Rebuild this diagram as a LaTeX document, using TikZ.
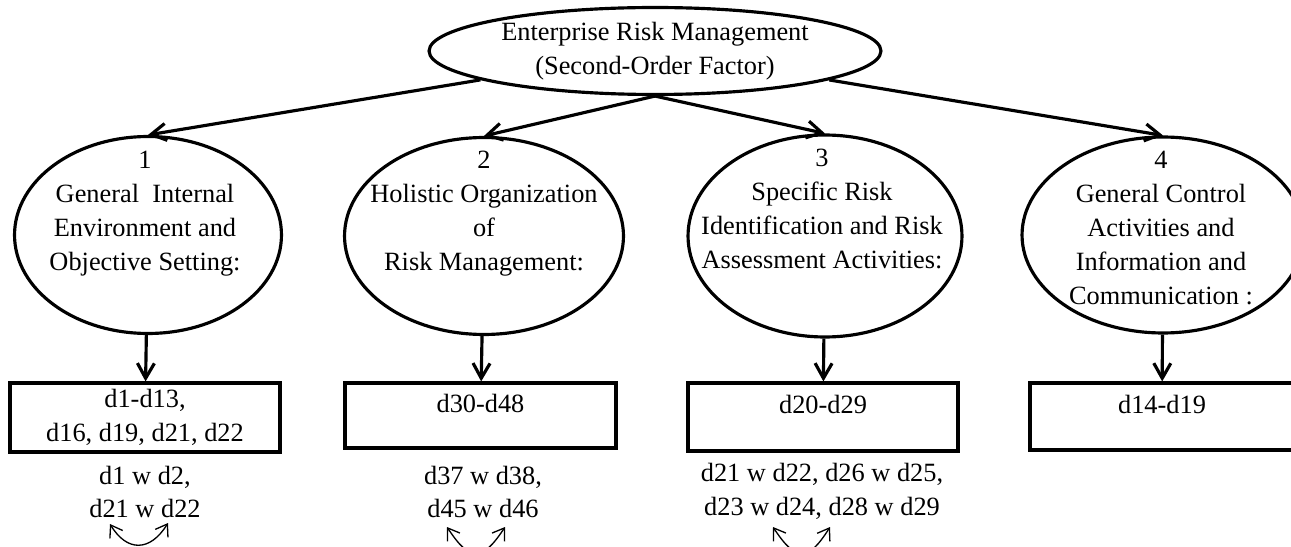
\documentclass[tikz,border=0pt]{standalone}
\usepackage{fontspec}
\setmainfont{Liberation Serif}
\usetikzlibrary{arrows.meta,shapes.geometric}

\begin{document}
\begin{tikzpicture}
            [
                x=0.02cm, y=-0.02cm,
                font=\fontsize{15pt}{19.3pt}\selectfont,
                secondorder/.style={ellipse, draw, line width=1.8pt, inner sep=0pt, align=center, minimum width=9.04cm, minimum height=1.74cm},
                factor/.style={ellipse, draw, line width=1.8pt, inner sep=0pt},
                factortext/.style={anchor=north, inner sep=0pt, align=center},
                indicators/.style={rectangle, draw, line width=1.8pt, inner sep=0pt, align=center},
                errors/.style={inner sep=0pt, align=center},
                loading/.style={line width=1.8pt, -{Straight Barb[length=3mm,width=3.4mm]}},
                corr/.style={line width=0.75pt, {Straight Barb[length=2.2mm,width=3mm]}-{Straight Barb[length=2.2mm,width=3mm]}},
            ]
            \useasboundingbox (0,0) rectangle (1291,547);
            % fator de segunda ordem
            \node[secondorder] (erm) at (655,51) {Enterprise Risk Management\\(Second-Order Factor)};
            % fatores de primeira ordem
            \node[factor, minimum width=5.34cm, minimum height=3.94cm] (f1) at (148,235) {};
            \node[factor, minimum width=5.58cm, minimum height=3.94cm] (f2) at (484,236) {};
            \node[factor, minimum width=5.48cm, minimum height=4.04cm] (f3) at (825,236) {};
            \node[factor, minimum width=5.64cm, minimum height=3.92cm] (f4) at (1163,235) {};
            \node[factortext] (f1text) at (145,151) {1\\General~~Internal\\Environment and\\Objective Setting:};
            \node[factortext] (f2text) at (484,151) {2\\Holistic Organization\\of\\Risk Management:};
            \node[factortext] (f3text) at (822,149) {3\\Specific Risk\\Identification and Risk\\Assessment Activities:};
            \node[factortext] (f4text) at (1161,151) {4\\General Control\\Activities and\\Information and\\Communication :};
            % indicadores
            \node[indicators, minimum width=5.40cm, minimum height=1.38cm] (b1) at (145,417.5) {d1-d13,\\d16, d19, d21, d22};
            \node[indicators, minimum width=5.42cm, minimum height=1.30cm] (b2) at (480.5,415.5) {d30-d48\\[-5pt]~};
            \node[indicators, minimum width=5.40cm, minimum height=1.36cm] (b3) at (823,417) {d20-d29\\[-5pt]~};
            \node[indicators, minimum width=5.28cm, minimum height=1.34cm] (b4) at (1162,416.5) {d14-d19\\[-5pt]~};
            % erros correlacionados
            \node[errors] (e1) at (145,492) {d1 w d2,\\d21 w d22};
            \node[errors] (e2) at (483,492) {d37 w d38,\\d45 w d46};
            \node[errors] (e3) at (822,491) {d21 w d22, d26 w d25,\\d23 w d24, d28 w d29};
            \coordinate (c1a) at (110,524);
            \coordinate (c1b) at (168,523);
            \coordinate (c2a) at (447,527);
            \coordinate (c2b) at (505,527);
            \coordinate (c3a) at (773,527);
            \coordinate (c3b) at (830,527);
            % cargas
            \draw[loading] (erm) -- (f1.north);
            \draw[loading] (erm.south) -- (f2.north);
            \draw[loading] (erm.south) -- (f3.north);
            \draw[loading] (erm) -- (f4.north);
            \draw[loading] (f1) -- (b1);
            \draw[loading] (f2) -- (b2);
            \draw[loading] (f3) -- (b3);
            \draw[loading] (f4) -- (b4);
            \draw[corr] (c1a) .. controls (127,552) and (150,552) .. (c1b);
            \draw[corr] (c2a) .. controls (470,562) and (482,562) .. (c2b);
            \draw[corr] (c3a) .. controls (796,562) and (808,562) .. (c3b);
        \end{tikzpicture}
\end{document}
